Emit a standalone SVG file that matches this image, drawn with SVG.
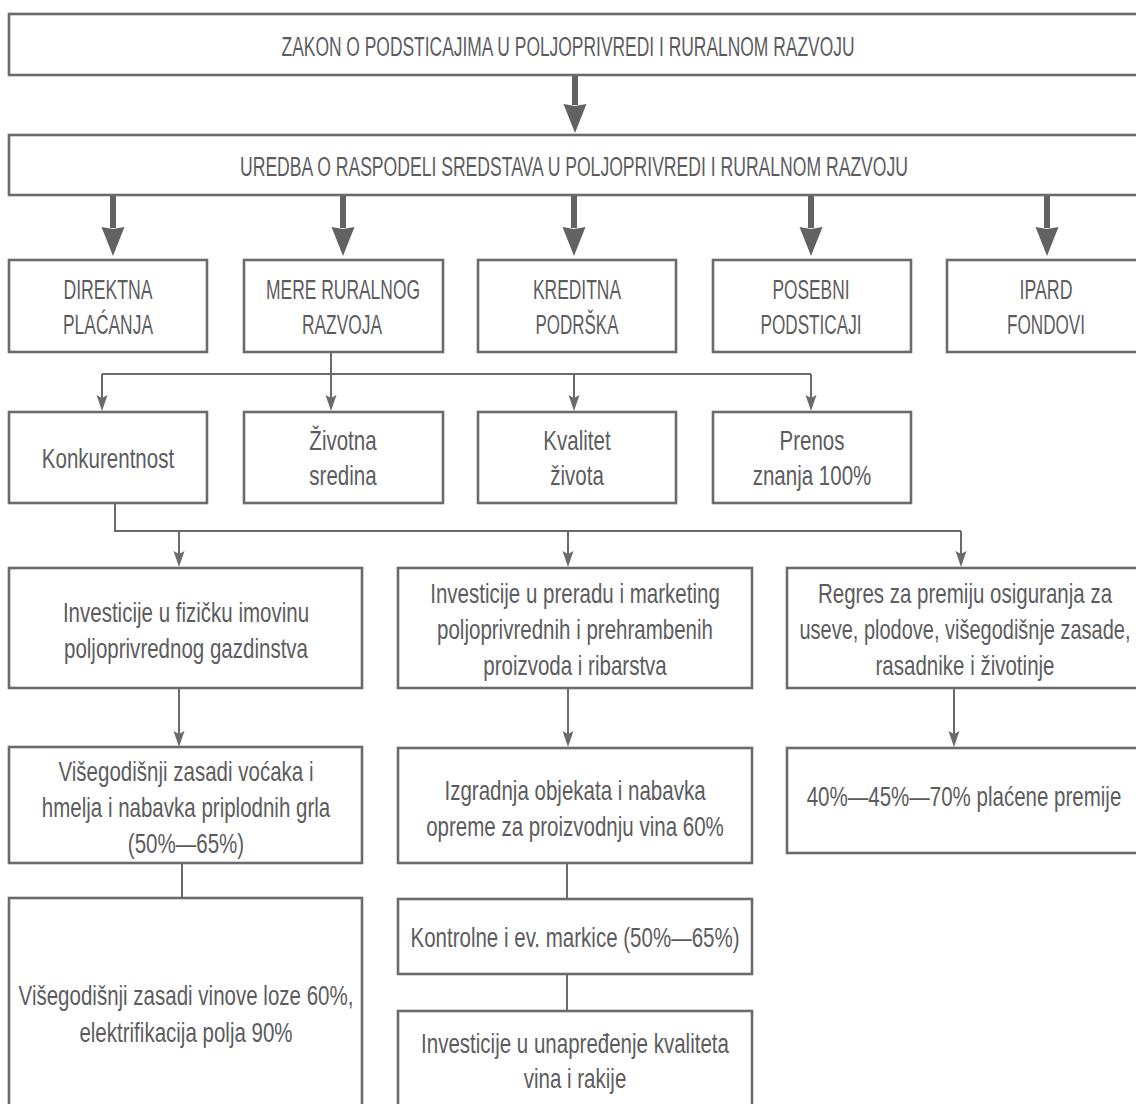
<svg xmlns="http://www.w3.org/2000/svg" width="1136" height="1104" viewBox="0 0 1136 1104">
<defs>
<style>
.box{fill:#ffffff;stroke:#6b6b6b;stroke-width:2.6}
.t{font-family:"Liberation Sans Narrow","Liberation Sans",Arial,sans-serif;font-size:27px;fill:#5c5c5e;text-anchor:middle}
.thin{fill:none;stroke:#6b6b6b;stroke-width:2}
.thick{fill:none;stroke:#626262;stroke-width:6}
</style>
<marker id="ah" markerUnits="userSpaceOnUse" markerWidth="16" markerHeight="12" refX="7" refY="5.5" orient="auto">
<path d="M0,0 L16,5.5 L0,11 L3,5.5 Z" fill="#6b6b6b"/>
</marker>
<marker id="ahb" markerUnits="userSpaceOnUse" markerWidth="30" markerHeight="24" refX="1" refY="11.5" orient="auto">
<path d="M0,0 L29,11.5 L0,23 L2,11.5 Z" fill="#626262"/>
</marker>
</defs>
<rect width="1136" height="1104" fill="#ffffff"/>

<g id="connectors">
<path class="thick" d="M575,76 V105" marker-end="url(#ahb)"/>
<path class="thick" d="M113,196 V228" marker-end="url(#ahb)"/>
<path class="thick" d="M343,196 V228" marker-end="url(#ahb)"/>
<path class="thick" d="M574,196 V228" marker-end="url(#ahb)"/>
<path class="thick" d="M811,196 V228" marker-end="url(#ahb)"/>
<path class="thick" d="M1047,196 V228" marker-end="url(#ahb)"/>

<path class="thin" d="M331,352 V402" marker-end="url(#ah)"/>
<path class="thin" d="M102,374 H811"/>
<path class="thin" d="M102,374 V402" marker-end="url(#ah)"/>
<path class="thin" d="M574,374 V402" marker-end="url(#ah)"/>
<path class="thin" d="M811,374 V402" marker-end="url(#ah)"/>

<path class="thin" d="M115,503 V531 H961"/>
<path class="thin" d="M179,531 V558" marker-end="url(#ah)"/>
<path class="thin" d="M568,531 V558" marker-end="url(#ah)"/>
<path class="thin" d="M961,531 V558" marker-end="url(#ah)"/>

<path class="thin" d="M179,688 V738" marker-end="url(#ah)"/>
<path class="thin" d="M568,688 V738" marker-end="url(#ah)"/>
<path class="thin" d="M954,688 V738" marker-end="url(#ah)"/>

<path class="thin" d="M182,863 V898"/>
<path class="thin" d="M567,863 V899"/>
<path class="thin" d="M567,974 V1011"/>
</g>

<g id="n-zakon">
<rect class="box" x="9" y="14" width="1140" height="61"/>
<text class="t" x="568" y="56" textLength="573" lengthAdjust="spacingAndGlyphs">ZAKON O PODSTICAJIMA U POLJOPRIVREDI I RURALNOM RAZVOJU</text>
</g>
<g id="n-uredba">
<rect class="box" x="9" y="135" width="1140" height="60"/>
<text class="t" x="574" y="176" textLength="668" lengthAdjust="spacingAndGlyphs">UREDBA O RASPODELI SREDSTAVA U POLJOPRIVREDI I RURALNOM RAZVOJU</text>
</g>

<g id="n-direktna">
<rect class="box" x="9" y="260" width="198" height="92"/>
<text class="t" x="108" y="299" textLength="89" lengthAdjust="spacingAndGlyphs">DIREKTNA</text>
<text class="t" x="108" y="334" textLength="90" lengthAdjust="spacingAndGlyphs">PLAĆANJA</text>
</g>
<g id="n-mere">
<rect class="box" x="244" y="260" width="199" height="92"/>
<text class="t" x="343" y="299" textLength="154" lengthAdjust="spacingAndGlyphs">MERE RURALNOG</text>
<text class="t" x="342" y="334" textLength="80" lengthAdjust="spacingAndGlyphs">RAZVOJA</text>
</g>
<g id="n-kreditna">
<rect class="box" x="478" y="260" width="198" height="92"/>
<text class="t" x="577" y="299" textLength="88" lengthAdjust="spacingAndGlyphs">KREDITNA</text>
<text class="t" x="577" y="334" textLength="83" lengthAdjust="spacingAndGlyphs">PODRŠKA</text>
</g>
<g id="n-posebni">
<rect class="box" x="713" y="260" width="198" height="92"/>
<text class="t" x="811" y="299" textLength="77" lengthAdjust="spacingAndGlyphs">POSEBNI</text>
<text class="t" x="811" y="334" textLength="101" lengthAdjust="spacingAndGlyphs">PODSTICAJI</text>
</g>
<g id="n-ipard">
<rect class="box" x="947" y="260" width="200" height="92"/>
<text class="t" x="1046" y="299" textLength="53" lengthAdjust="spacingAndGlyphs">IPARD</text>
<text class="t" x="1046" y="334" textLength="78" lengthAdjust="spacingAndGlyphs">FONDOVI</text>
</g>

<g id="n-konkurentnost">
<rect class="box" x="9" y="412" width="198" height="91"/>
<text class="t" transform="translate(108 468) scale(0.76 1)">Konkurentnost</text>
</g>
<g id="n-zivotna">
<rect class="box" x="244" y="412" width="199" height="91"/>
<text class="t" transform="translate(343 450) scale(0.76 1)">Životna</text>
<text class="t" transform="translate(343 485) scale(0.76 1)">sredina</text>
</g>
<g id="n-kvalitet">
<rect class="box" x="478" y="412" width="198" height="91"/>
<text class="t" transform="translate(577 450) scale(0.76 1)">Kvalitet</text>
<text class="t" transform="translate(577 485) scale(0.76 1)">života</text>
</g>
<g id="n-prenos">
<rect class="box" x="713" y="412" width="198" height="91"/>
<text class="t" transform="translate(812 450) scale(0.76 1)">Prenos</text>
<text class="t" transform="translate(812 485) scale(0.76 1)">znanja 100%</text>
</g>

<g id="n-fizicka">
<rect class="box" x="9" y="568" width="353" height="120"/>
<text class="t" transform="translate(186 622) scale(0.76 1)">Investicije u fizičku imovinu</text>
<text class="t" transform="translate(186 658) scale(0.76 1)">poljoprivrednog gazdinstva</text>
</g>
<g id="n-prerada">
<rect class="box" x="398" y="568" width="354" height="120"/>
<text class="t" transform="translate(575 603) scale(0.76 1)">Investicije u preradu i marketing</text>
<text class="t" transform="translate(575 639) scale(0.76 1)">poljoprivrednih i prehrambenih</text>
<text class="t" transform="translate(575 675) scale(0.76 1)">proizvoda i ribarstva</text>
</g>
<g id="n-regres">
<rect class="box" x="787" y="568" width="360" height="120"/>
<text class="t" transform="translate(965 603) scale(0.76 1)">Regres za premiju osiguranja za</text>
<text class="t" transform="translate(965 639) scale(0.74 1)">useve, plodove, višegodišnje zasade,</text>
<text class="t" transform="translate(965 675) scale(0.76 1)">rasadnike i životinje</text>
</g>

<g id="n-vocke">
<rect class="box" x="9" y="747" width="353" height="116"/>
<text class="t" transform="translate(186 781) scale(0.76 1)">Višegodišnji zasadi voćaka i</text>
<text class="t" transform="translate(186 817) scale(0.76 1)">hmelja i nabavka priplodnih grla</text>
<text class="t" transform="translate(186 853) scale(0.76 1)">(50%—65%)</text>
</g>
<g id="n-izgradnja">
<rect class="box" x="398" y="748" width="354" height="115"/>
<text class="t" transform="translate(575 800) scale(0.76 1)">Izgradnja objekata i nabavka</text>
<text class="t" transform="translate(575 836) scale(0.76 1)">opreme za proizvodnju vina 60%</text>
</g>
<g id="n-premije">
<rect class="box" x="787" y="748" width="360" height="105"/>
<text class="t" transform="translate(964 806) scale(0.76 1)">40%—45%—70% plaćene premije</text>
</g>

<g id="n-vinova">
<rect class="box" x="9" y="898" width="353" height="230"/>
<text class="t" transform="translate(186 1005) scale(0.76 1)">Višegodišnji zasadi vinove loze 60%,</text>
<text class="t" transform="translate(186 1042) scale(0.76 1)">elektrifikacija polja 90%</text>
</g>
<g id="n-kontrolne">
<rect class="box" x="398" y="899" width="354" height="75"/>
<text class="t" transform="translate(575 947) scale(0.76 1)">Kontrolne i ev. markice (50%—65%)</text>
</g>
<g id="n-kvalitet-vina">
<rect class="box" x="398" y="1011" width="354" height="120"/>
<text class="t" transform="translate(575 1053) scale(0.76 1)">Investicije u unapređenje kvaliteta</text>
<text class="t" transform="translate(575 1088) scale(0.76 1)">vina i rakije</text>
</g>
</svg>
